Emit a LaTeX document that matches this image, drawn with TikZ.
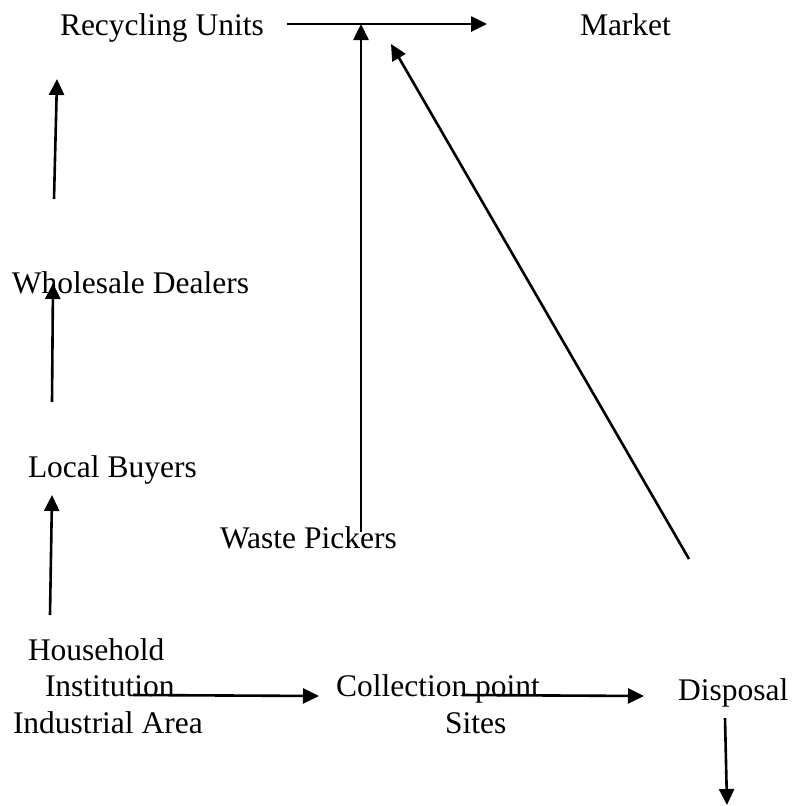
\documentclass[tikz,border=0pt]{standalone}
\usepackage{fontspec}
\setmainfont{Liberation Serif}
\usetikzlibrary{arrows.meta}
\tikzset{
  lbl/.style={inner sep=0pt, outer sep=0pt, anchor=base west, font=\fontsize{31.5}{36.5}\selectfont},
  flow/.style={line width=2.6pt, -{Triangle[length=16pt,width=15pt]}}
}
\begin{document}
\begin{tikzpicture}[x=1pt,y=-1pt]
\fill[white] (0,0) rectangle (792,806);
\useasboundingbox (0,0) rectangle (792,806);
% texts
\node[lbl] (ru) at (60,35) {Recycling Units};
\node[lbl] (mk) at (580,35) {Market};
\node[lbl] (wd) at (12,293) {Wholesale Dealers};
\node[lbl] (lb) at (28,477) {Local Buyers};
\node[lbl] (wp) at (220,548) {Waste Pickers};
\node[lbl, align=left] (src) at (13,733) {\hspace*{15pt}Household\\\hspace*{32pt}Institution\\Industrial Area};
\node[lbl, align=left] (cp) at (336,733) {Collection point\\\hspace*{109pt}Sites};
\node[lbl] (dp) at (678,700) {Disposal};
% connector ends
\coordinate (ru-out) at (287,24);
\coordinate (mk-in) at (487,24);
\coordinate (wp-out) at (361,532);
\coordinate (ru-in1) at (361,24);
\coordinate (dp-up) at (689,559);
\coordinate (ru-in2) at (391,44);
\coordinate (wd-out) at (54,199);
\coordinate (ru-in3) at (57,79);
\coordinate (lb-out) at (52,402);
\coordinate (wd-in) at (53,283);
\coordinate (src-up) at (50,615);
\coordinate (lb-in) at (52,495);
\coordinate (src-out) at (133,695);
\coordinate (cp-in) at (319,696);
\coordinate (cp-out) at (462,695);
\coordinate (dp-in) at (644,696);
\coordinate (dp-out) at (725,718);
\coordinate (dp-end) at (727,805);
% connectors
\draw[flow] (ru-out) -- (mk-in);
\draw[flow] (wp-out) -- (ru-in1);
\draw[flow] (dp-up) -- (ru-in2);
\draw[flow] (wd-out) -- (ru-in3);
\draw[flow] (lb-out) -- (wd-in);
\draw[flow] (src-up) -- (lb-in);
\draw[flow] (src-out) -- (cp-in);
\draw[flow] (cp-out) -- (dp-in);
\draw[flow] (dp-out) -- (dp-end);
\end{tikzpicture}
\end{document}
